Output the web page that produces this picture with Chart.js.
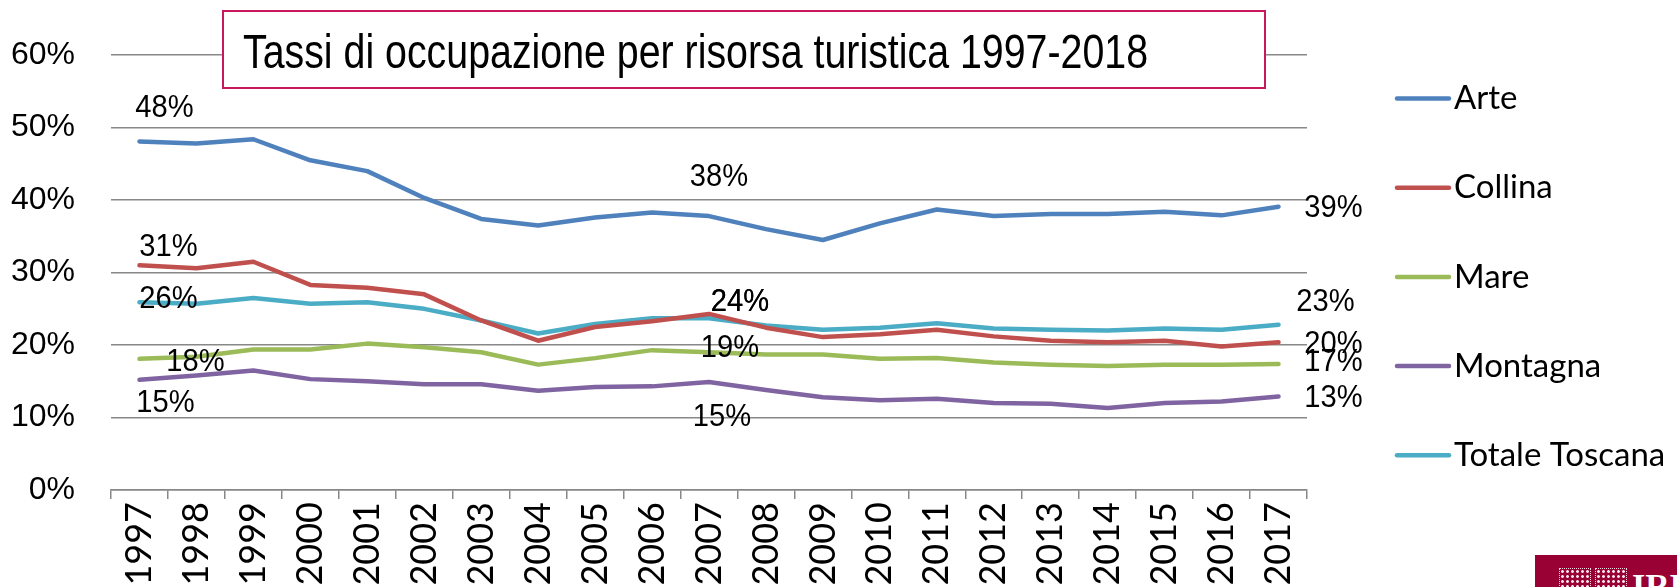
<!DOCTYPE html>
<html lang="it">
<head>
<meta charset="utf-8">
<title>Tassi di occupazione per risorsa turistica 1997-2018</title>
<script src="https://cdn.jsdelivr.net/npm/chart.js@4.4.1/dist/chart.umd.min.js"></script>
<style>
  html, body { margin: 0; padding: 0; background: #fff; }
  #contenitore { position: relative; width: 1677px; height: 587px; overflow: hidden; }
  #logo { position: absolute; left: 1535px; top: 555px; width: 142px; height: 32px; background: #990033; overflow: hidden; }
  #logo .quadro { position: absolute; top: 13px; width: 30px; height: 30px; border: 1px dotted #f3d6df;
    background: radial-gradient(circle, #f7e3ea 1.2px, transparent 1.6px) 0 0 / 5px 5px; }
  #logo .scritta { position: absolute; left: 97px; top: 14px; color: #fff; font: bold 34px "Liberation Serif", serif; line-height: 34px; }
</style>
</head>
<body>
<div id="contenitore">
  <canvas id="grafico" width="1677" height="587"></canvas>
  <div id="logo">
    <div class="quadro" style="left:24px"></div>
    <div class="quadro" style="left:60px"></div>
    <div class="scritta">IRPET</div>
  </div>
</div>
<script>
// dati (percentuali)
const anni = ['1997','1998','1999','2000','2001','2002','2003','2004','2005','2006','2007',
              '2008','2009','2010','2011','2012','2013','2014','2015','2016','2017'];
const arte     = [48.1, 47.8, 48.4, 45.5, 44.0, 40.3, 37.4, 36.5, 37.6, 38.3, 37.8, 36.0, 34.5, 36.8, 38.7, 37.8, 38.1, 38.1, 38.4, 37.9, 39.1];
const collina  = [31.0, 30.6, 31.5, 28.3, 27.9, 27.0, 23.4, 20.6, 22.5, 23.3, 24.3, 22.4, 21.1, 21.5, 22.1, 21.2, 20.6, 20.4, 20.6, 19.8, 20.4];
const mare     = [18.1, 18.4, 19.4, 19.4, 20.2, 19.7, 19.0, 17.3, 18.2, 19.3, 19.0, 18.7, 18.7, 18.1, 18.2, 17.6, 17.3, 17.1, 17.3, 17.3, 17.4];
const montagna = [15.2, 15.8, 16.5, 15.3, 15.0, 14.6, 14.6, 13.7, 14.2, 14.3, 14.9, 13.8, 12.8, 12.4, 12.6, 12.0, 11.9, 11.3, 12.0, 12.2, 12.9];
const totale   = [25.9, 25.7, 26.5, 25.7, 25.9, 25.0, 23.4, 21.6, 22.9, 23.7, 23.7, 22.7, 22.1, 22.4, 23.0, 22.3, 22.1, 22.0, 22.3, 22.1, 22.8];
const tickY = [0, 10, 20, 30, 40, 50, 60];
const titolo = 'Tassi di occupazione per risorsa turistica 1997-2018';

// etichette dati: serie, indice, spostamento rispetto al punto
const etichette = [
  {serie: 0, indice: 0, dx: 25, dy: -33}, {serie: 0, indice: 10, dx: 10, dy: -39}, {serie: 0, indice: 20, dx: 55, dy: 1.5},
  {serie: 1, indice: 0, dx: 29, dy: -18}, {serie: 1, indice: 10, dx: 31, dy: -11.5}, {serie: 1, indice: 20, dx: 55, dy: 2.5},
  {serie: 2, indice: 0, dx: 56, dy: 3.4}, {serie: 2, indice: 10, dx: 21, dy: -3.4}, {serie: 2, indice: 20, dx: 55, dy: -1},
  {serie: 3, indice: 0, dx: 26, dy: 24}, {serie: 3, indice: 10, dx: 13, dy: 35}, {serie: 3, indice: 20, dx: 55, dy: 1.6},
  {serie: 4, indice: 0, dx: 29, dy: -3}, {serie: 4, indice: 10, dx: 31, dy: -16}, {serie: 4, indice: 20, dx: 47, dy: -22.4}
];

function serie(nome, valori, colore) {
  return {
    label: nome, data: valori, borderColor: colore, backgroundColor: colore,
    borderWidth: 4.5, pointRadius: 0, tension: 0,
    borderCapStyle: 'round', borderJoinStyle: 'round', fill: false
  };
}

const etichettePlugin = {
  id: 'etichette',
  afterDatasetsDraw(chart) {
    const ctx = chart.ctx;
    ctx.save();
    ctx.font = '31px "Liberation Sans"';
    ctx.fillStyle = '#000';
    ctx.textAlign = 'center';
    ctx.textBaseline = 'middle';
    etichette.forEach(e => {
      const punto = chart.getDatasetMeta(e.serie).data[e.indice];
      const v = chart.data.datasets[e.serie].data[e.indice];
      // un po' stretto come nell'originale
      ctx.save();
      ctx.translate(punto.x + e.dx, punto.y + e.dy);
      ctx.scale(0.94, 1);
      ctx.fillText(Math.round(v) + '%', 0, 0);
      ctx.restore();
    });
    ctx.restore();
  }
};

// legenda a destra e riquadro del titolo
const extraPlugin = {
  id: 'extra',
  afterDraw(chart) {
    const ctx = chart.ctx;
    ctx.save();
    chart.data.datasets.forEach((ds, i) => {
      const y = 98.5 + i * 89.2;
      ctx.strokeStyle = ds.borderColor;
      ctx.lineWidth = 4.5;
      ctx.lineCap = 'round';
      ctx.beginPath();
      ctx.moveTo(1397, y);
      ctx.lineTo(1449, y);
      ctx.stroke();
      ctx.font = '33px Lato';
      ctx.fillStyle = '#000';
      ctx.textBaseline = 'middle';
      ctx.fillText(ds.label, 1454, y);
    });

    ctx.fillStyle = '#fff';
    ctx.fillRect(223, 11, 1042, 77);
    ctx.strokeStyle = '#c8175a';
    ctx.lineWidth = 2;
    ctx.strokeRect(223, 11, 1042, 77);
    ctx.font = '48px "Liberation Sans"';
    ctx.fillStyle = '#000';
    ctx.textBaseline = 'alphabetic';
    const larghezza = ctx.measureText(titolo).width;
    ctx.translate(243, 68);
    ctx.scale(905 / larghezza, 1);
    ctx.fillText(titolo, 0, 0);
    ctx.restore();
  }
};

const ctx = document.querySelector('#grafico').getContext('2d');
const grafico = new Chart(ctx, {
  type: 'line',
  data: {
    labels: anni,
    datasets: [
      serie('Arte', arte, '#4f81bd'),
      serie('Collina', collina, '#c0504d'),
      serie('Mare', mare, '#9bbb59'),
      serie('Montagna', montagna, '#8064a2'),
      serie('Totale Toscana', totale, '#4bacc6')
    ]
  },
  options: {
    responsive: false,
    animation: false,
    devicePixelRatio: 1,
    layout: { padding: { top: 54, right: 370, bottom: 0, left: 0 } },
    plugins: { legend: { display: false }, tooltip: { enabled: false } },
    scales: {
      x: {
        offset: true,
        afterFit(scale) { scale.height = 97; },
        grid: { offset: true, drawOnChartArea: false, drawTicks: true, tickLength: 9, color: '#888', lineWidth: 1.5 },
        border: { display: true, color: '#888', width: 1.5 },
        ticks: { color: '#000', font: { family: 'Lato', size: 36 }, minRotation: 90, maxRotation: 90, padding: 3, autoSkip: false }
      },
      y: {
        min: 0, max: 60,
        afterFit(scale) { scale.width = 111; },
        afterBuildTicks(scale) { scale.ticks = tickY.map(v => ({ value: v })); },
        grid: { color: '#888', lineWidth: 1.5, drawTicks: false },
        border: { display: false },
        ticks: { color: '#000', font: { family: 'Liberation Sans', size: 32 }, padding: 36, callback: v => v + '%' }
      }
    }
  },
  plugins: [etichettePlugin, extraPlugin]
});
</script>
</body>
</html>
